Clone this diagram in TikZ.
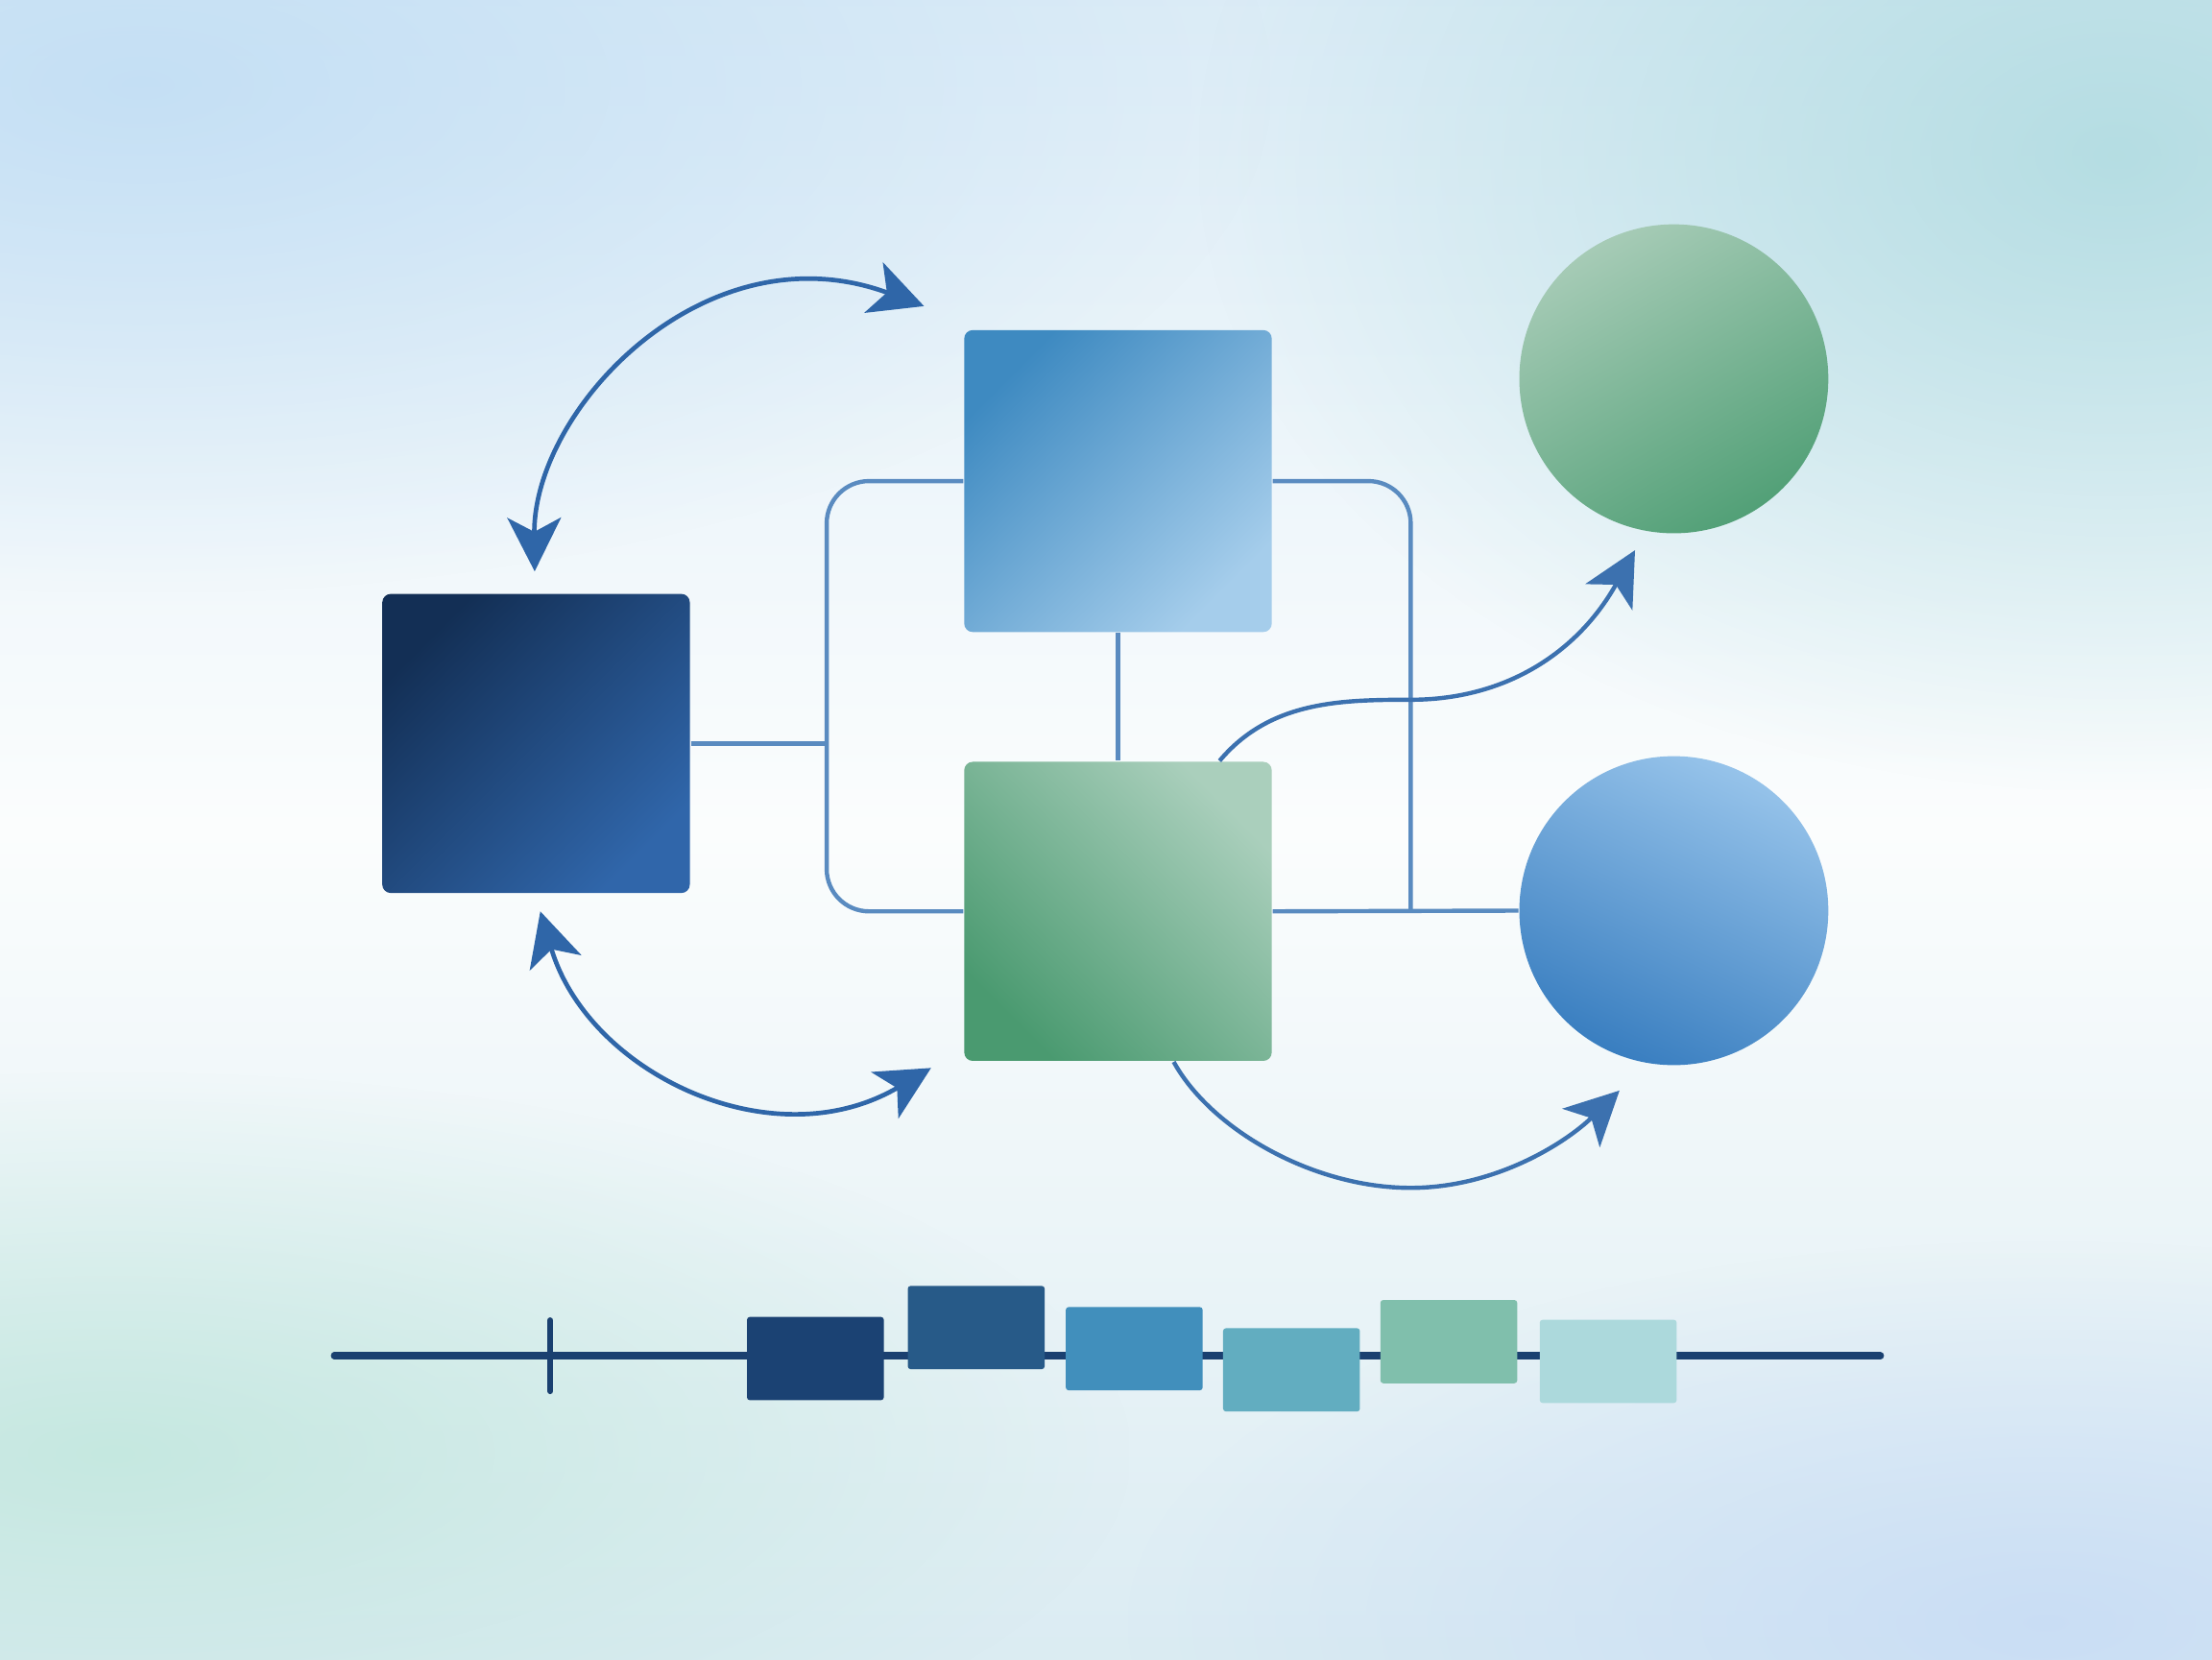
\documentclass[tikz,border=0pt]{standalone}
\usetikzlibrary{arrows.meta,fadings}
\definecolor{bgtop}{HTML}{D6E9F6}
\definecolor{bgmid}{HTML}{FBFDFD}
\definecolor{bgbot}{HTML}{D4E8F0}
\definecolor{bgTL}{HTML}{C0DDF4}
\definecolor{bgTR}{HTML}{ADDADF}
\definecolor{bgBL}{HTML}{BEE6DB}
\definecolor{bgBR}{HTML}{C5DAF5}
\definecolor{darkA}{HTML}{132F55}
\definecolor{darkB}{HTML}{3066AA}
\definecolor{tmA}{HTML}{3E8AC1}
\definecolor{tmB}{HTML}{A5CDEB}
\definecolor{gsA}{HTML}{AACFBC}
\definecolor{gsB}{HTML}{4A9A70}
\definecolor{gcA}{HTML}{A6CBB6}
\definecolor{gcB}{HTML}{52A077}
\definecolor{bcA}{HTML}{96C3EA}
\definecolor{bcB}{HTML}{397EC0}
\definecolor{conncol}{HTML}{5A8BC0}
\definecolor{arrcol}{HTML}{2F66A8}
\definecolor{curvcol}{HTML}{3C71AF}
\definecolor{tlline}{HTML}{1A4070}
\definecolor{tA}{HTML}{1B4273}
\definecolor{tB}{HTML}{275A88}
\definecolor{tC}{HTML}{418FBC}
\definecolor{tD}{HTML}{62ADC0}
\definecolor{tE}{HTML}{80BFAC}
\definecolor{tF}{HTML}{ACD9DC}
\tikzfading[name=glow, inner color=transparent!0, outer color=transparent!100]
\begin{document}
\begin{tikzpicture}[x=0.1mm,y=-0.1mm,
  box/.style={rectangle, rounded corners=0.6mm, minimum width=21.8mm, minimum height=21.2mm, inner sep=0pt, draw=none},
  disc/.style={circle, minimum size=21.9mm, inner sep=0pt, draw=none},
  tlbox/.style={rectangle, rounded corners=0.2mm, minimum width=9.7mm, minimum height=5.9mm, inner sep=0pt, draw=none},
  conn/.style={draw=conncol, line width=0.3mm},
  arr/.style={draw=arrcol, line width=0.32mm, {Stealth[length=3.8mm,width=3.8mm,inset=1mm]}-{Stealth[length=3.8mm,width=3.8mm,inset=1mm]}},
  carr/.style={draw=curvcol, line width=0.3mm, -{Stealth[length=3.8mm,width=3.8mm,inset=1mm]}}
]
\path[use as bounding box] (0,0) rectangle (1568,1176);
% background
\begin{scope}
\clip (0,0) rectangle (1568,1176);
\shade[top color=bgtop, bottom color=bgbot, middle color=bgmid] (0,-120) rectangle (1568,1296);
\fill[bgTL, path fading=glow, opacity=0.85] (-700,-300) rectangle (900,420);
\fill[bgTR, path fading=glow, opacity=0.85] (850,-340) rectangle (2150,560);
\fill[bgBL, path fading=glow, opacity=0.8] (-640,760) rectangle (800,1300);
\fill[bgBR, path fading=glow, opacity=0.8] (800,880) rectangle (2100,1420);
\end{scope}

% main shapes
\node[box, top color=darkA, bottom color=darkB, shading angle=45] (dark) at (380,527) {};
\node[box, minimum height=21.4mm, top color=tmA, bottom color=tmB, shading angle=45] (tm) at (792.5,341) {};
\node[box, top color=gsA, bottom color=gsB, shading angle=-45] (gs) at (792.5,646) {};
\node[disc, top color=gcA, bottom color=gcB, shading angle=30] (gc) at (1186.5,268.5) {};
\node[disc, top color=bcA, bottom color=bcB, shading angle=-25] (bc) at (1186.5,645.5) {};

% bus lines
\coordinate (busL) at (586,0);
\coordinate (busR) at (1000,0);
\draw[conn] (dark.east) -- (dark.east -| busL);
\draw[conn, rounded corners=3mm] (tm.west) -- (tm.west -| busL) -- (gs.west -| busL) -- (gs.west);
\draw[conn, rounded corners=3mm] (tm.east) -- (tm.east -| busR) -- (gs.east -| busR);
\draw[conn] (gs.east) -- (bc.west);
\draw[conn] (tm.south) -- (gs.north);

% curved arrows to the circles
\coordinate (t1) at (1159,390);
\coordinate (t2) at (1148,773);
\draw[carr] ([xshift=7.2mm]gs.north) .. controls (900,497) and (950,496) .. (1000,496)
   .. controls (1070,496) and (1120,460) .. (t1);
\draw[carr] ([xshift=3.95mm]gs.south) .. controls (858,800) and (930,842) .. (1000,842)
   .. controls (1060,842) and (1110,810) .. (t2);

% double arrows
\coordinate (a1) at (379,405);
\coordinate (a2) at (655,217);
\coordinate (b1) at (383,646);
\coordinate (b2) at (660,757);
\draw[arr] (a1) .. controls (378,290) and (500,160) .. (a2);
\draw[arr] (b1) .. controls (417,761) and (548,823) .. (b2);

% timeline
\coordinate (tl0) at (237,961);
\coordinate (tl1) at (1333,961);
\coordinate (tk0) at (390,936);
\coordinate (tk1) at (390,986);
\draw[tlline, line width=0.5mm, line cap=round] (tl0) -- (tl1);
\draw[tlline, line width=0.45mm, line cap=round] (tk0) -- (tk1);
\node[tlbox, fill=tA] (r1) at (578,963) {};
\node[tlbox, fill=tB] (r2) at (692,941) {};
\node[tlbox, fill=tC] (r3) at (804,956) {};
\node[tlbox, fill=tD] (r4) at (915.5,971) {};
\node[tlbox, fill=tE] (r5) at (1027,951) {};
\node[tlbox, fill=tF] (r6) at (1140,965) {};
\end{tikzpicture}
\end{document}
